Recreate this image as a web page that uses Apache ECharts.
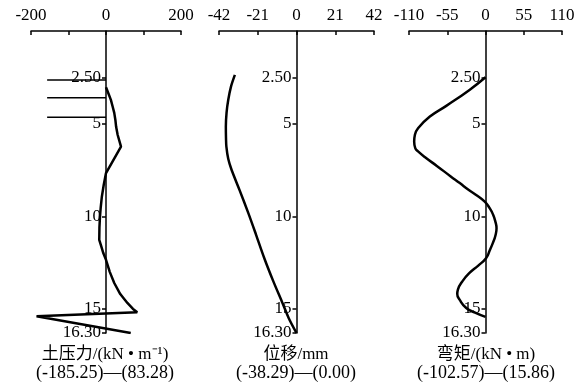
<!DOCTYPE html>
<html><head><meta charset="utf-8">
<script src="https://cdn.jsdelivr.net/npm/echarts@6/dist/echarts.min.js"></script>
<style>html,body{margin:0;padding:0;background:#fff}#c{width:583px;height:385px}</style>
</head><body><div id="c"></div>
<script>
// depth ticks (m)
const depthTicks = [2.5, 5, 10, 15, 16.3];
const depthTickLabels = ['2.50', '5', '10', '15', '16.30'];

// x-axis label values
const pressureTicks = [-200, 0, 200];
const dispTicks = [-42, -21, 0, 21, 42];
const momentTicks = [-110, -55, 0, 55, 110];

// earth pressure (kN/m)
const pressureDepth = [3.04, 3.4, 3.72, 4.1, 4.42, 4.8, 5.17, 5.6, 6.24, 7.67, 8.3, 8.93, 9.5, 10.0, 10.6, 11.27, 11.6, 12.0, 12.35, 13.0, 13.6, 14.2, 14.68, 15.0, 15.18, 15.4, 16.3];
const pressureValue = [0, 7, 13, 18, 22, 25, 27, 31, 40, 0, -6, -11, -14, -16, -17.5, -18, -13, -7, 0, 10, 22, 38, 57, 72, 83.28, -185.25, 66];

// strut lines in pressure panel
const strutDepth = [2.64, 3.6, 4.65];
const strutValue = [-157, -157, -157];

// displacement (mm)
const dispDepth = [2.37, 3.0, 3.72, 4.4, 5.16, 5.8, 6.24, 6.9, 7.49, 8.6, 9.83, 11.0, 12.25, 13.5, 14.68, 15.5, 16.3];
const dispValue = [-33.4, -35.5, -37, -37.9, -38.29, -38.2, -38, -37, -35.2, -30.8, -26.1, -21.9, -17.5, -12.6, -7.6, -4.2, 0];

// bending moment (kN*m)
const momentDepth = [2.5, 3.18, 4.04, 4.62, 5.25, 5.6, 5.97, 6.32, 6.5, 6.87, 7.28, 7.85, 8.21, 8.57, 8.84, 9.2, 9.56, 9.92, 10.3, 10.65, 11.05, 11.45, 11.85, 12.25, 12.65, 13.06, 13.5, 13.96, 14.2, 14.5, 14.95, 15.2, 15.43];
const momentValue = [0, -23, -56.4, -80, -97, -101.5, -102.57, -101, -97, -85, -70, -50, -37, -24.5, -14, -1.5, 6, 11, 14.3, 15.86, 14.2, 10.5, 6, 1, -10, -23, -33, -39.7, -40.6, -37.3, -27.7, -15, 0];

const titles1 = ['土压力/(kN • m⁻¹)', '位移/mm', '弯矩/(kN • m)'];
const titles2 = ['(-185.25)—(83.28)', '(-38.29)—(0.00)', '(-102.57)—(15.86)'];

const zip = (d, v) => d.map((y, i) => [v[i], y]);
const FONT = "'Liberation Serif', 'Noto Sans CJK SC', serif";
const lineStyleAxis = { color: '#000', width: 1.5 };

const grids = [
  { left: 31, width: 150, top: 31, height: 302 },
  { left: 219, width: 155, top: 31, height: 302 },
  { left: 409, width: 153, top: 31, height: 302 }
];
const xDefs = [
  { min: -200, max: 200, interval: 100, labels: pressureTicks },
  { min: -42, max: 42, interval: 21, labels: dispTicks },
  { min: -110, max: 110, interval: 55, labels: momentTicks }
];

const xAxis = xDefs.map((d, i) => ({
  type: 'value', gridIndex: i, position: 'top', min: d.min, max: d.max, interval: d.interval,
  axisLine: { show: true, onZero: false, lineStyle: lineStyleAxis },
  axisTick: { show: true, inside: true, length: 4, lineStyle: lineStyleAxis },
  axisLabel: { show: true, customValues: d.labels, margin: 7, color: '#000', fontSize: 17, fontFamily: FONT },
  splitLine: { show: false }
}));
// y axis sits on x = 0 (ranges are symmetric, so zero is at the grid's centre)
const yAxis = [0, 1, 2].map(i => ({
  type: 'value', gridIndex: i, min: 0, max: 16.3, inverse: true, position: 'left',
  offset: -grids[i].width / 2,
  axisLine: { show: true, onZero: false, lineStyle: lineStyleAxis },
  axisTick: { show: true, inside: false, length: 4, customValues: depthTicks, lineStyle: lineStyleAxis },
  axisLabel: {
    show: true, customValues: depthTicks, margin: 5, color: '#000', fontSize: 17, fontFamily: FONT,
    formatter: v => { const k = depthTicks.findIndex(t => Math.abs(t - v) < 1e-6); return k >= 0 ? depthTickLabels[k] : ''; }
  },
  splitLine: { show: false }
}));

const curveStyle = { color: '#000', width: 2.5 };
const series = [
  { type: 'line', xAxisIndex: 0, yAxisIndex: 0, data: zip(pressureDepth, pressureValue), showSymbol: false, lineStyle: curveStyle, silent: true },
  { type: 'line', xAxisIndex: 1, yAxisIndex: 1, data: zip(dispDepth, dispValue), smooth: 0.3, showSymbol: false, lineStyle: curveStyle, silent: true },
  { type: 'line', xAxisIndex: 2, yAxisIndex: 2, data: zip(momentDepth, momentValue), smooth: 0.5, showSymbol: false, lineStyle: curveStyle, silent: true }
];
strutDepth.forEach((dp, i) => {
  series.push({ type: 'line', xAxisIndex: 0, yAxisIndex: 0, data: [[strutValue[i], dp], [0, dp]], showSymbol: false, lineStyle: { color: '#000', width: 1.5 }, silent: true });
});

const centers = [105, 296, 486];
const graphic = [];
centers.forEach((cx, i) => {
  graphic.push({ type: 'text', x: cx, y: 355, style: { text: titles1[i], align: 'center', verticalAlign: 'middle', fill: '#000', font: '17px ' + FONT } });
  graphic.push({ type: 'text', x: cx, y: 373, style: { text: titles2[i], align: 'center', verticalAlign: 'middle', fill: '#000', font: '18px ' + FONT } });
});

const chart = echarts.init(document.getElementById('c'), null, { renderer: 'canvas' });
chart.setOption({ animation: false, backgroundColor: '#fff', grid: grids, xAxis, yAxis, series, graphic });
</script></body></html>
